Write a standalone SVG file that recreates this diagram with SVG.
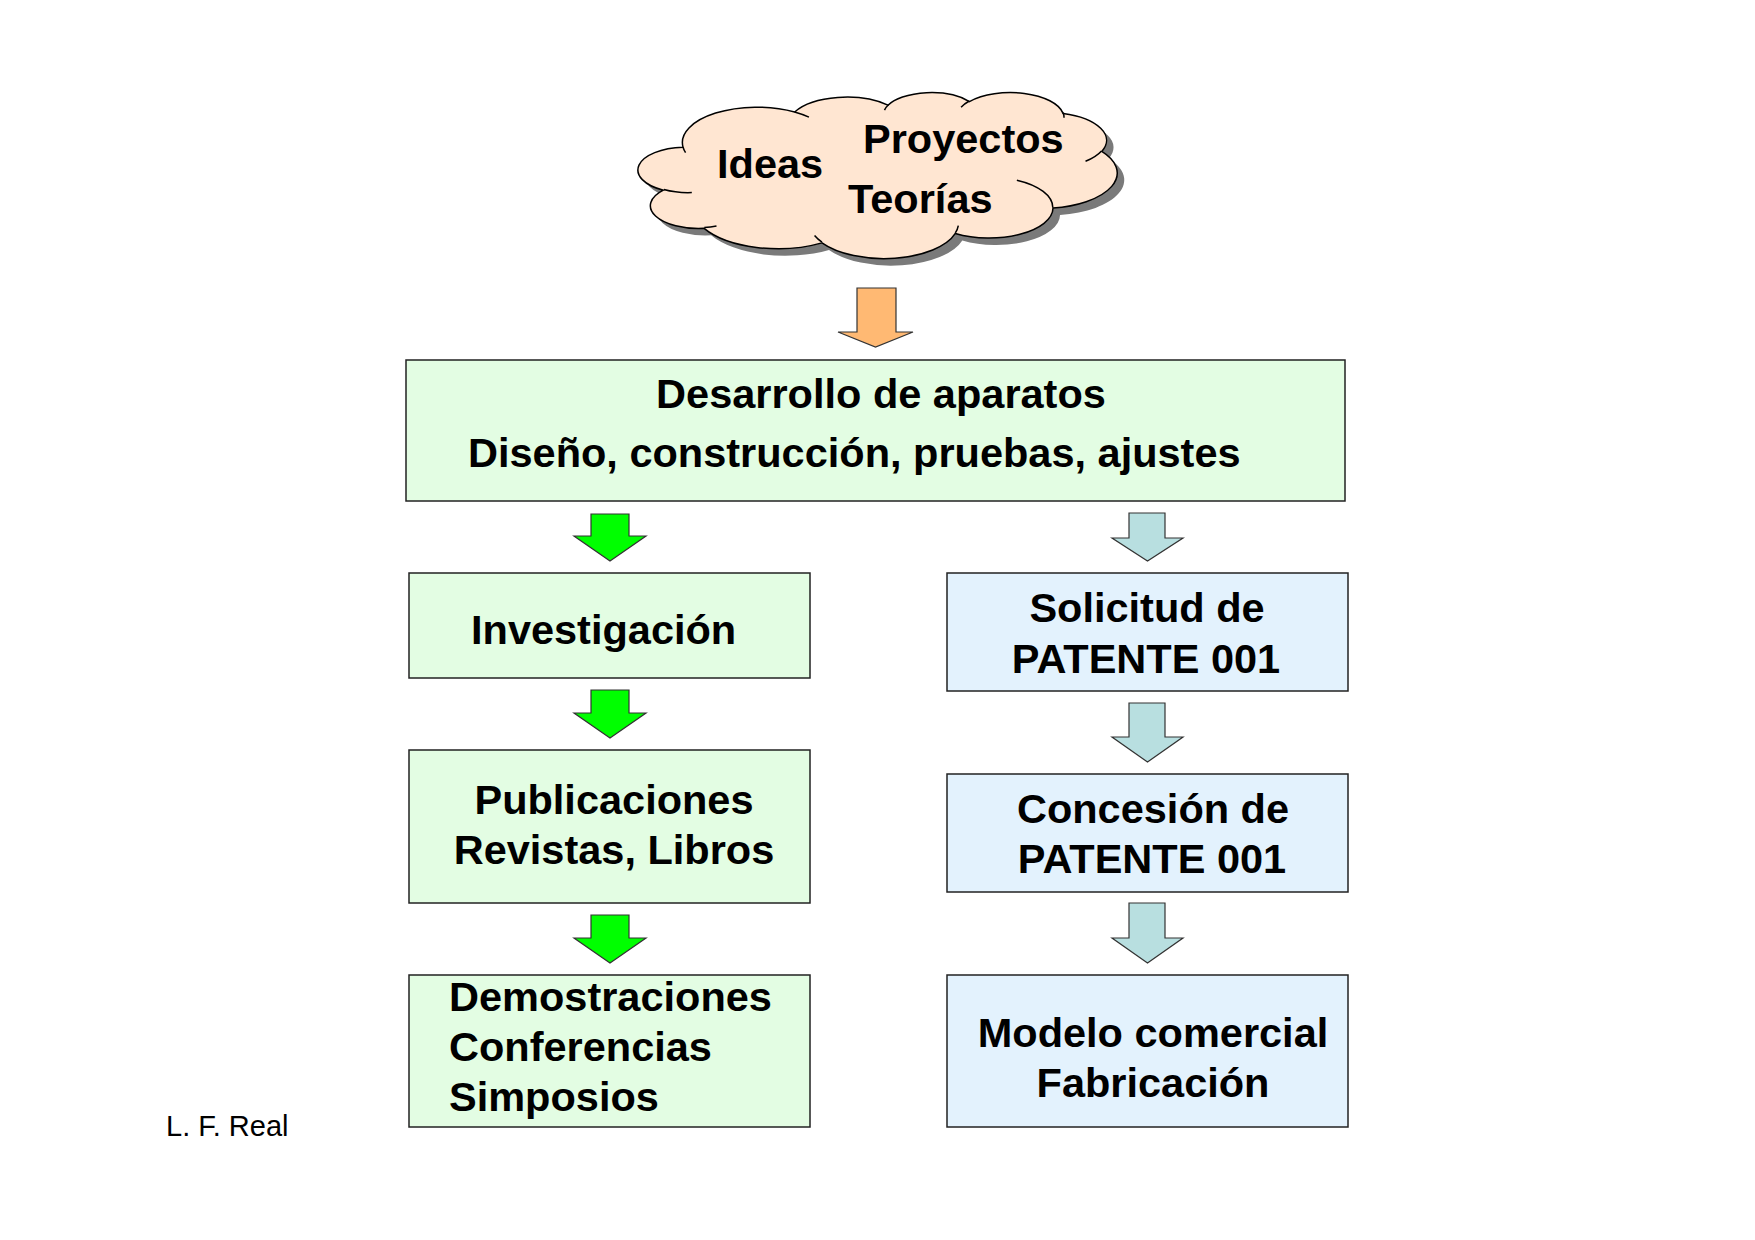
<svg xmlns="http://www.w3.org/2000/svg" width="1755" height="1240" viewBox="0 0 1755 1240">
<defs>
<style>
.t{font-family:"Liberation Sans",Arial,sans-serif;font-weight:bold;font-size:41.5px;fill:#000}
.tm{text-anchor:middle}
.g{fill:#E3FDE3;stroke:#222;stroke-width:1.5}
.b{fill:#E3F2FD;stroke:#222;stroke-width:1.5}
.ag{fill:#00FF00;stroke:#333;stroke-width:1.2}
.ab{fill:#B8DFE0;stroke:#333;stroke-width:1.2}
.ao{fill:#FFB973;stroke:#333;stroke-width:1.2}
.cl{vector-effect:non-scaling-stroke;stroke:#000;stroke-width:1.5}
</style>
</defs>
<rect width="1755" height="1240" fill="#fff"/>

<g id="cloud">
<g transform="translate(647 99) scale(0.011042 0.0038426)">
<path fill="#7a7a7a" d="M3900 14370 A6753 9190 0 0 1 14005.4 5202.5 A5333 7267 0 0 1 22455.8 3433.8 A4365 5945 0 0 1 29833.5 2483.5 A4857 6595 0 0 1 38318.3 5579.4 A5333 7273 0 0 1 41818.7 15462.9 A6775 9220 0 0 1 37404.6 30206.5 A5785 7867 0 0 1 28556.2 36816.7 A6752 9215 0 0 1 16481.6 39270 A7720 10543 0 0 1 5806.4 35476.7 A4360 5918 0 0 1 2115.4 25554.4 A4345 5945 0 0 1 3900 14370 Z"/>
</g>
<g transform="translate(640 92) scale(0.011042 0.0038426)">
<path class="cl" fill="#FFE6D2" d="M3900 14370 A6753 9190 0 0 1 14005.4 5202.5 A5333 7267 0 0 1 22455.8 3433.8 A4365 5945 0 0 1 29833.5 2483.5 A4857 6595 0 0 1 38318.3 5579.4 A5333 7273 0 0 1 41818.7 15462.9 A6775 9220 0 0 1 37404.6 30206.5 A5785 7867 0 0 1 28556.2 36816.7 A6752 9215 0 0 1 16481.6 39270 A7720 10543 0 0 1 5806.4 35476.7 A4360 5918 0 0 1 2115.4 25554.4 A4345 5945 0 0 1 3900 14370 Z"/>
<path class="cl" fill="none" d="M4693 26177 A4345 5945 0 0 1 2159.8 25380.1 M6928 34899 A4360 5918 0 0 1 5819.7 35280.4 M16478 39090 A6752 9215 0 0 1 15809.3 37347.5 M28827 34751 A6752 9215 0 0 1 28560.4 36659.8 M34129 22954 A5785 7867 0 0 1 37380.3 30089.5 M41798 15354 A5333 7273 0 0 1 40349.2 18031.2 M38324 5426 A4857 6595 0 0 1 38400.4 6689.5 M29078 3952 A4857 6595 0 0 1 29820.2 2339.3 M22141 4720 A4365 5945 0 0 1 22500 3330.3 M14000 5192 A6753 9190 0 0 1 15299.7 6540.4 M4127 15789 A6753 9190 0 0 1 3900.2 14370.1"/>
</g>
<text class="t" x="717" y="178">Ideas</text>
<text class="t" x="863" y="153">Proyectos</text>
<text class="t" x="848" y="213">Teorías</text>
</g>

<g id="desarrollo">
<rect class="g" x="406" y="360" width="939" height="141"/>
<text class="t tm" x="881" y="408">Desarrollo de aparatos</text>
<text class="t" x="468" y="467">Diseño, construcción, pruebas, ajustes</text>
</g>

<g id="investigacion">
<rect class="g" x="409" y="573" width="401" height="105"/>
<text class="t" x="471" y="644">Investigación</text>
</g>

<g id="publicaciones">
<rect class="g" x="409" y="750" width="401" height="153"/>
<text class="t tm" x="614" y="814">Publicaciones</text>
<text class="t tm" x="614" y="864">Revistas, Libros</text>
</g>

<g id="demostraciones">
<rect class="g" x="409" y="975" width="401" height="152"/>
<text class="t" x="449" y="1011">Demostraciones</text>
<text class="t" x="449" y="1061">Conferencias</text>
<text class="t" x="449" y="1111">Simposios</text>
</g>

<g id="solicitud">
<rect class="b" x="947" y="573" width="401" height="118"/>
<text class="t tm" x="1147" y="622">Solicitud de</text>
<text class="t tm" x="1146" y="673">PATENTE 001</text>
</g>

<g id="concesion">
<rect class="b" x="947" y="774" width="401" height="118"/>
<text class="t tm" x="1153" y="823">Concesión de</text>
<text class="t tm" x="1152" y="873">PATENTE 001</text>
</g>

<g id="modelo">
<rect class="b" x="947" y="975" width="401" height="152"/>
<text class="t tm" x="1153" y="1047">Modelo comercial</text>
<text class="t tm" x="1153" y="1097">Fabricación</text>
</g>

<g id="connectors">
<polygon class="ao" points="857,288 896,288 896,332 913,332 875.5,347 838,332 857,332"/>
<polygon class="ag" points="591,514 629,514 629,536 646,536 610,561 574,536 591,536"/>
<polygon class="ag" points="591,690 629,690 629,713 646,713 610,738 574,713 591,713"/>
<polygon class="ag" points="591,915 629,915 629,938 646,938 610,963 574,938 591,938"/>
<polygon class="ab" points="1129,513 1165,513 1165,538 1183,538 1147.5,561 1112,538 1129,538"/>
<polygon class="ab" points="1129,703 1165,703 1165,737 1183,737 1147.5,762 1112,737 1129,737"/>
<polygon class="ab" points="1129,903 1165,903 1165,938 1183,938 1147.5,963 1112,938 1129,938"/>
</g>

<text id="autor" x="166" y="1136" style="font-family:'Liberation Sans',Arial,sans-serif;font-size:29px;fill:#000">L. F. Real</text>
</svg>
